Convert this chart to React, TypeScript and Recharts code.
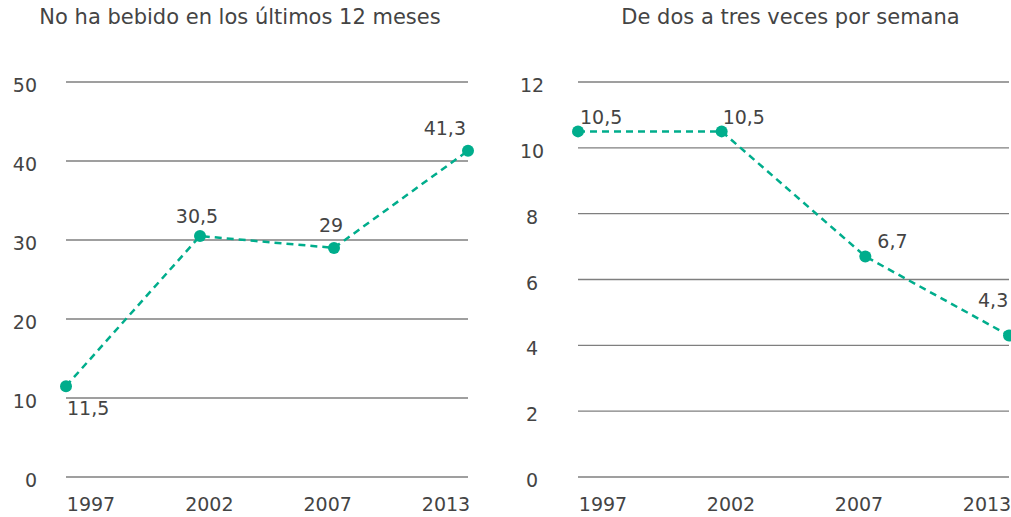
import React from 'react'
import { LineChart, Line, XAxis, YAxis, CartesianGrid, LabelList } from 'recharts'

const years = ['1997', '2002', '2007', '2013']
const noBebido = [11.5, 30.5, 29, 41.3]
const dosTres = [10.5, 10.5, 6.7, 4.3]
const leftTicks = [0, 10, 20, 30, 40, 50]
const rightTicks = [0, 2, 4, 6, 8, 10, 12]

const GREEN = '#00ad8c'
const TEXT = '#444'
const FONT = '"DejaVu Sans", sans-serif'
const FS = 19

// label placement per point: [dx, dy, anchor]
const leftLabelPos: [number, number, string][] = [
  [1, 29, 'start'], [-3, -13, 'middle'], [-3, -16, 'middle'], [-2, -16, 'end']
]
const rightLabelPos: [number, number, string][] = [
  [2, -7, 'start'], [1, -7, 'start'], [12, -8, 'start'], [-31, -28, 'start']
]

const fmt = (v: number) => String(v).replace('.', ',')

const makeLabel = (pos: [number, number, string][]) => (props: any) => {
  const { x, y, value, index } = props
  const [dx, dy, anchor] = pos[index]
  return (
    <text x={x + dx} y={y + dy} textAnchor={anchor as any} fill={TEXT} fontSize={FS} fontFamily={FONT}>
      {fmt(value)}
    </text>
  )
}

const makeXTick = () => (props: any) => {
  const { x, y, payload, index } = props
  const i = payload.index ?? index
  const off = 25 - (i * 47) / 3
  return (
    <text x={x + off} y={y + 26} textAnchor="middle" fill={TEXT} fontSize={FS} fontFamily={FONT}>
      {payload.value}
    </text>
  )
}

const makeYTick = (dx: number, anchor: string) => (props: any) => {
  const { x, y, payload } = props
  return (
    <text x={x + dx} y={y + 10} textAnchor={anchor as any} fill={TEXT} fontSize={FS} fontFamily={FONT}>
      {payload.value}
    </text>
  )
}

function Panel({ values, ticks, max, width, marginLeft, marginRight, labelPos, yDx, yAnchor }: any) {
  const data = years.map((y, i) => ({ year: y, value: values[i] }))
  return (
    <LineChart width={width} height={517} data={data} margin={{ top: 82, right: marginRight, left: 6, bottom: 0 }}>
      <CartesianGrid vertical={false} stroke="#7f7f7f" strokeWidth={1.3} />
      <XAxis
        dataKey="year"
        axisLine={false}
        tickLine={false}
        height={40}
        padding={{ left: 0, right: 0 }}
        interval={0}
        tick={makeXTick()}
      />
      <YAxis
        domain={[0, max]}
        ticks={ticks}
        interval={0}
        axisLine={false}
        tickLine={false}
        tickSize={0}
        tickMargin={0}
        width={marginLeft - 6}
        tick={makeYTick(yDx, yAnchor)}
      />
      <Line
        type="linear"
        dataKey="value"
        stroke={GREEN}
        strokeWidth={2.5}
        strokeDasharray="7 5"
        dot={{ r: 6, fill: GREEN, stroke: 'none' }}
        isAnimationActive={false}
      >
        <LabelList dataKey="value" content={makeLabel(labelPos)} />
      </Line>
    </LineChart>
  )
}

export default function App() {
  return (
    <div style={{ position: 'absolute', left: 0, top: 0, width: 1011, height: 517, background: '#fff', fontFamily: FONT }}>
      <div style={{ position: 'absolute', left: 0, top: 5, width: 480, textAlign: 'center', fontSize: 21, color: TEXT }}>
        No ha bebido en los últimos 12 meses
      </div>
      <div style={{ position: 'absolute', left: 570, top: 5, width: 441, textAlign: 'center', fontSize: 21, color: TEXT }}>
        De dos a tres veces por semana
      </div>
      <div style={{ position: 'absolute', left: 0, top: 0 }}>
        <Panel values={noBebido} ticks={leftTicks} max={50} width={500} marginLeft={66} marginRight={32}
          labelPos={leftLabelPos} yDx={-29} yAnchor="end" />
      </div>
      <div style={{ position: 'absolute', left: 500, top: 0 }}>
        <Panel values={dosTres} ticks={rightTicks} max={12} width={511} marginLeft={78} marginRight={2}
          labelPos={rightLabelPos} yDx={-46} yAnchor="middle" />
      </div>
    </div>
  )
}
